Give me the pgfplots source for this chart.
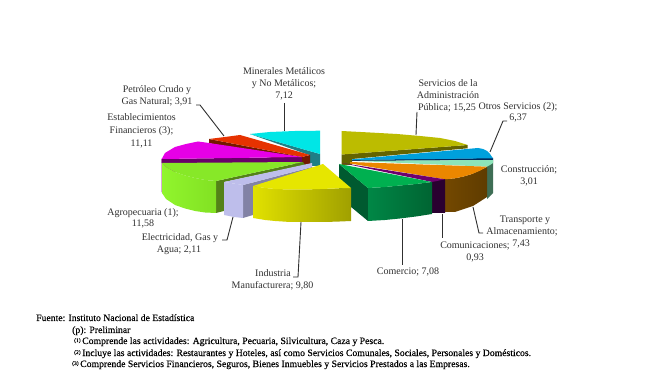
\documentclass[border=0pt]{standalone}
\usepackage{pgfplots}
\pgfplotsset{compat=1.18}
\usepackage{fontspec}
\setmainfont{Liberation Serif}
\newfontfamily\footf[FakeBold=0.25]{Liberation Serif}
\definecolor{txt}{HTML}{303030}
\definecolor{cCyan}{HTML}{00E6E6}
\definecolor{cTeal}{HTML}{1F7F85}
\definecolor{cRed}{HTML}{E63200}
\definecolor{cRedD}{HTML}{731900}
\definecolor{cMagS}{HTML}{96148C}
\definecolor{cMagD}{HTML}{690069}
\definecolor{cMag}{HTML}{E600E6}
\definecolor{cGrD}{HTML}{548218}
\definecolor{cGrL}{HTML}{91F52D}
\definecolor{cGrR}{HTML}{82E123}
\definecolor{cGrT}{HTML}{87E828}
\definecolor{cLilS}{HTML}{8282A5}
\definecolor{cLil}{HTML}{BEBEEB}
\definecolor{cOlD}{HTML}{646400}
\definecolor{cOl}{HTML}{BCBC00}
\definecolor{cNavy}{HTML}{00285A}
\definecolor{cBlue}{HTML}{00A0DC}
\definecolor{cMintS}{HTML}{3E6E55}
\definecolor{cMint}{HTML}{8CE4B9}
\definecolor{cBrL}{HTML}{734800}
\definecolor{cBrR}{HTML}{5F3C00}
\definecolor{cOr}{HTML}{EB8700}
\definecolor{cPuD}{HTML}{2A0030}
\definecolor{cPu}{HTML}{6E006E}
\definecolor{cCoD}{HTML}{005A30}
\definecolor{cCoL}{HTML}{008746}
\definecolor{cCoR}{HTML}{006432}
\definecolor{cCo}{HTML}{00B050}
\definecolor{cYeL}{HTML}{E1E100}
\definecolor{cYeR}{HTML}{A0A000}
\definecolor{cYe}{HTML}{E6E600}
\newcommand\lab[3]{\node[anchor=base,inner sep=0pt,text=txt,font=\fontsize{10}{12}\selectfont] at (axis cs:#1,#2+3.7) {#3};}
\newcommand\foot[3]{\node[anchor=base west,inner sep=0pt,text=black,font=\footf\fontsize{9.7}{11}\selectfont] at (axis cs:#1,#2+3) {#3};}
\newcommand\sn[1]{\raisebox{2pt}{\fontsize{5.5}{6}\selectfont(#1)}\,}
\begin{document}
\begin{tikzpicture}
\begin{axis}[scale only axis,width=654pt,height=374pt,xmin=0,xmax=654,ymin=0,ymax=374,y dir=reverse,hide axis,clip=false,
  f/.style={draw=none,fill=#1,mark=none},
  g/.style 2 args={draw=none,left color=#1,right color=#2,mark=none},
  ld/.style={draw=txt,line width=0.9pt,mark=none}]
% page
\addplot[f=white] coordinates {(0,0)(654,0)(654,374)(0,374)} --cycle;
% cyan: Minerales
\addplot[f=cTeal] coordinates {(250,134)(320,154)(320,166)(309,166)(309,155)} --cycle;
\addplot[f=cCyan] coordinates {(250,134)(270,132)(295,131)(320,130.7)(320,154)} --cycle;
% red: Petroleo
\addplot[f=cRedD] coordinates {(209,139)(302,157)(310,155)(310,165)(302,165)(209,143)} --cycle;
\addplot[f=cRed] coordinates {(209,139)(225,137)(240,135)(310,155)(302,157)} --cycle;
% magenta: Establecimientos
\addplot[f=cMagS] coordinates {(161.7,159)(161.7,192)(165,196)(175,200)(175,165)} --cycle;
\addplot[f=cMagD] coordinates {(161.7,159)(302,157)(302,164)(161.7,163)} --cycle;
\addplot[f=cMag] coordinates {(161.7,159)(165,153)(175,147)(186,144)(198,141.5)(209,143)(302,157)} --cycle;
% green: Agropecuaria
\addplot[f=cGrD] coordinates {(216,181)(303,162)(305,165)(224,182)(224,211)(216,213)} --cycle;
\addplot[g={cGrL}{cGrR}] coordinates {(162,163)(166,167)(175,172)(185,175.5)(195,178)(205,180)(216,181)(216,213)(205,212.5)(195,211)(185,208.5)(175,205)(166,199)(162,193)} --cycle;
\addplot[f=cGrT] coordinates {(162,163)(303,162)(216,181)(205,180)(195,178)(185,175.5)(175,172)(166,167)} --cycle;
% lilac: Electricidad
\addplot[f=cLilS] coordinates {(243,185)(243,218)(253,215)(253,188)(312,170)(312,167)} --cycle;
\addplot[f=cLil] coordinates {(224,182)(243,185)(243,218)(234,217)(224,215)} --cycle;
\addplot[f=cLil] coordinates {(224,182)(312,163)(312,167)(243,185)} --cycle;
% olive: Administracion
\addplot[f=cOlD] coordinates {(341.7,154.5)(467.7,145)(467.7,148.3)(400,154.5)(352,159)(352,165)(341.7,165)} --cycle;
\addplot[f=cOl] coordinates {(341.7,131)(370,132.5)(397,134)(420,136)(440,138)(455,141)(467.7,145)(341.7,154.5)} --cycle;
% blue: Otros
\addplot[f=cNavy] coordinates {(352,159.8)(493,158)(493,160.2)(352,161)} --cycle;
\addplot[f=cBlue] coordinates {(352,159.3)(400,155)(478,148)(483,149)(487,151)(490,154)(493,158.3)(352,160)} --cycle;
% mint: Construccion
\addplot[f=cMintS] coordinates {(493,160)(493,193)(487,199)(487,166)} --cycle;
\addplot[f=cMint] coordinates {(352,160.8)(493,160)(493,163)(490,165)(487,166.7)} --cycle;
% brown and orange: Transporte
\addplot[g={cBrL}{cBrR}] coordinates {(445,179)(455,178.3)(463,176.7)(472,174)(487,167)(487,197)(473,206)(455,212)(445,212)} --cycle;
\addplot[f=cOr] coordinates {(350,162)(487,166.7)(480,170.7)(472,174)(463,176.7)(455,178.3)(445,179.3)(350,163.5)} --cycle;
% purple: Comunicaciones
\addplot[f=cPuD] coordinates {(432,181)(445,179)(445,213)(432,213)} --cycle;
\addplot[f=cPu] coordinates {(342,163)(445,179.3)(432,182)} --cycle;
% green: Comercio
\addplot[f=cCoD] coordinates {(339,164)(339,197)(368,221)(368,188)} --cycle;
\addplot[g={cCoL}{cCoR}] coordinates {(368,188)(385,187)(400,185.5)(416,184)(432,182)(432,214)(416,216.5)(400,218.5)(385,220)(368,221)} --cycle;
\addplot[f=cCo] coordinates {(339,164)(432,182)(416,184)(400,185.5)(385,187)(368,188)} --cycle;
% yellow: Industria
\addplot[g={cYeL}{cYeR}] coordinates {(253,186)(265,188)(275,189)(290,189.5)(305,189.5)(320,189)(335,188.5)(351,188)(351,221)(335,221.7)(320,222)(305,222)(290,222)(275,221)(265,220)(253,218)} --cycle;
\addplot[f=cYe] coordinates {(253,186)(323,164)(351,188)(335,188.5)(320,189)(305,189.5)(290,189.5)(275,189)(265,188)} --cycle;
% leaders
\addplot[ld] coordinates {(284,103)(284,131)};
\addplot[ld] coordinates {(196,105)(200,105)(224,136)};
\addplot[ld] coordinates {(222,240)(227,240)(233,217)};
\addplot[ld] coordinates {(293,277)(298,277)(301,222)};
\addplot[ld] coordinates {(417,112)(416,135)};
\addplot[ld] coordinates {(507,121)(503,121)(490,152)};
\addplot[ld] coordinates {(473,207)(479,233)(483,233)};
\addplot[ld] coordinates {(442,214)(442,238)};
\addplot[ld] coordinates {(402,219)(402,265)};
% labels
\lab{284}{71}{Minerales Metálicos}
\lab{284}{83}{y No Metálicos;}
\lab{284}{95}{7,12}
\lab{157}{89}{Petróleo Crudo y}
\lab{157}{101}{Gas Natural; 3,91}
\lab{141.5}{117}{Establecimientos}
\lab{141.5}{130}{Financieros (3);}
\lab{141.5}{142.5}{11,11}
\lab{143}{212}{Agropecuaria (1);}
\lab{143}{223}{11,58}
\lab{180}{237}{Electricidad, Gas y}
\lab{179}{249}{Agua; 2,11}
\lab{273}{273}{Industria}
\lab{272.5}{285}{Manufacturera; 9,80}
\lab{448}{83}{Servicios de la}
\lab{448}{95}{Administración}
\lab{447}{107}{Pública; 15,25}
\lab{518}{106}{Otros Servicios (2);}
\lab{518}{117}{6,37}
\lab{529}{169}{Construcción;}
\lab{529}{181}{3,01}
\lab{525}{219}{Transporte y}
\lab{522}{231}{Almacenamiento;}
\lab{521}{243}{7,43}
\lab{475}{245}{Comunicaciones;}
\lab{475}{257}{0,93}
\lab{408}{271}{Comercio; 7,08}
% notes
\foot{36}{318}{Fuente: Instituto Nacional de Estadística}
\foot{72}{330}{(p): Preliminar}
\foot{74}{341}{\sn{1}Comprende las actividades: Agricultura, Pecuaria, Silvicultura, Caza y Pesca.}
\foot{74}{353}{\sn{2}Incluye las actividades: Restaurantes y Hoteles, así como Servicios Comunales, Sociales, Personales y Domésticos.}
\foot{72}{364}{\sn{3}Comprende Servicios Financieros, Seguros, Bienes Inmuebles y Servicios Prestados a las Empresas.}
\end{axis}
\end{tikzpicture}
\end{document}
